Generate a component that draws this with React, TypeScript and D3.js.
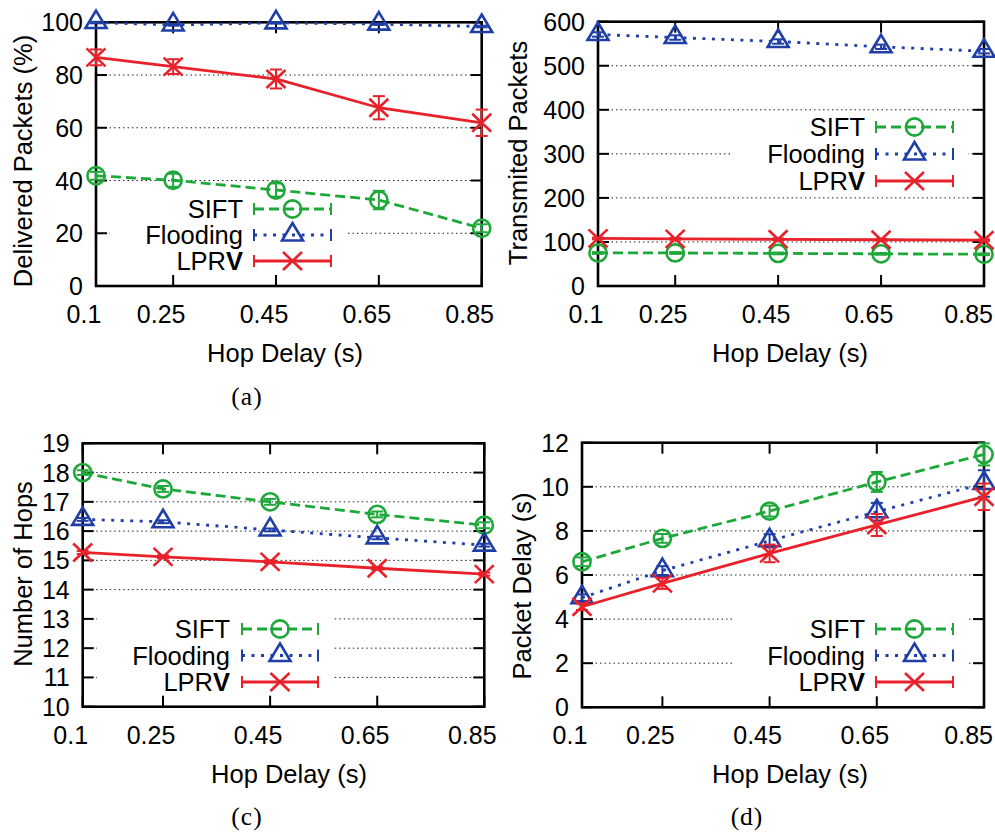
import React from "react";
import * as d3 from "d3";

// Shared x values (hop delay, seconds) and their tick labels
const hopDelay = [0.1, 0.25, 0.45, 0.65, 0.85];
const hopDelayLabels = ["0.1", "0.25", "0.45", "0.65", "0.85"];
const seriesNames = ["SIFT", "Flooding", "LPRV"];

// (a) Delivered packets (%)
const deliveredSift = [41.8, 40.1, 36.4, 32.6, 21.9];
const deliveredSiftErr = [1.5, 2.5, 2.5, 3.5, 1.5];
const deliveredFlooding = [99.9, 99.0, 99.8, 99.3, 98.4];
const deliveredFloodingErr = [0.3, 0.3, 0.3, 0.3, 0.3];
const deliveredLprv = [86.7, 83.2, 78.5, 67.6, 61.9];
const deliveredLprvErr = [3.0, 2.8, 3.6, 4.4, 5.0];
const deliveredTicks = [0, 20, 40, 60, 80, 100];

// (b) Transmitted packets
const transSift = [75, 75, 74, 73, 72];
const transSiftErr = [2, 2, 2, 2, 2];
const transFlooding = [571, 564, 555, 543, 533];
const transFloodingErr = [5, 5, 5, 5, 5];
const transLprv = [108, 107, 106, 105, 104];
const transLprvErr = [2, 2, 2, 2, 2];
const transTicks = [0, 100, 200, 300, 400, 500, 600];

// (c) Number of hops
const hopsSift = [18.0, 17.44, 17.0, 16.57, 16.2];
const hopsSiftErr = [0.08, 0.1, 0.1, 0.1, 0.1];
const hopsFlooding = [16.4, 16.32, 16.04, 15.77, 15.52];
const hopsFloodingErr = [0.05, 0.05, 0.05, 0.05, 0.05];
const hopsLprv = [15.27, 15.12, 14.95, 14.73, 14.53];
const hopsLprvErr = [0.05, 0.05, 0.05, 0.05, 0.05];
const hopsTicks = [10, 11, 12, 13, 14, 15, 16, 17, 18, 19];

// (d) Packet delay (s)
const delaySift = [6.6, 7.66, 8.9, 10.22, 11.47];
const delaySiftErr = [0.2, 0.2, 0.25, 0.45, 0.5];
const delayFlooding = [4.97, 6.2, 7.55, 8.87, 10.15];
const delayFloodingErr = [0.15, 0.2, 0.3, 0.4, 0.6];
const delayLprv = [4.56, 5.62, 6.98, 8.27, 9.55];
const delayLprvErr = [0.15, 0.25, 0.4, 0.5, 0.6];
const delayTicks = [0, 2, 4, 6, 8, 10, 12];

const GREEN = "#1fa83a";
const BLUE = "#1f3fa6";
const RED = "#e8212b";
const FONT = "'Liberation Sans', Arial, Helvetica, sans-serif";
const TICK_FONT = 25;
const PAGE_RIGHT = 993;

type MarkerKind = "circle" | "triangle" | "cross";
type Series = {
  name: string;
  values: number[];
  errors: number[];
  color: string;
  dash: string;
  marker: MarkerKind;
};

function makeSeries(sift: number[], siftErr: number[], fl: number[], flErr: number[], lp: number[], lpErr: number[]): Series[] {
  return [
    { name: seriesNames[0], values: sift, errors: siftErr, color: GREEN, dash: "10,5", marker: "circle" },
    { name: seriesNames[1], values: fl, errors: flErr, color: BLUE, dash: "3,6.5", marker: "triangle" },
    { name: seriesNames[2], values: lp, errors: lpErr, color: RED, dash: "", marker: "cross" },
  ];
}

function Marker({ kind, x, y, color }: { kind: MarkerKind; x: number; y: number; color: string }) {
  const sw = 2.6;
  if (kind === "circle")
    return <circle cx={x} cy={y} r={8.6} fill="none" stroke={color} strokeWidth={sw} />;
  if (kind === "triangle")
    return (
      <path
        transform={`translate(${x},${y})`}
        d="M0,-12 L10.5,5.5 L-10.5,5.5 Z"
        fill="none"
        stroke={color}
        strokeWidth={sw}
        strokeLinejoin="miter"
      />
    );
  return (
    <path
      transform={`translate(${x},${y})`}
      d="M-9.5,-9 L9.5,9 M-9.5,9 L9.5,-9"
      fill="none"
      stroke={color}
      strokeWidth={sw}
    />
  );
}

function LprvLabel({ x, y }: { x: number; y: number }) {
  return (
    <text x={x} y={y} textAnchor="end" fontFamily={FONT} fontSize={25.5} fill="#000">
      <tspan>LPR</tspan>
      <tspan fontWeight="bold">V</tspan>
    </text>
  );
}

// rough Helvetica-metric width of a numeric label
function numericWidth(s: string, size: number) {
  let w = 0;
  for (const ch of s) w += ch === "." ? 0.278 : 0.556;
  return w * size;
}

type PanelProps = {
  frame: { left: number; right: number; top: number; bottom: number };
  yDomain: [number, number];
  yTicks: number[];
  yLabel: string;
  yLabelPos: { x: number; y: number };
  xLabelX: number;
  xTickBaseline: number;
  xLabelBaseline: number;
  legend: { textRight: number; x0: number; x1: number; rows: number[] };
  series: Series[];
};

function Panel(p: PanelProps) {
  const { frame } = p;
  const x = d3.scaleLinear().domain([hopDelay[0], hopDelay[hopDelay.length - 1]]).range([frame.left, frame.right]);
  const y = d3.scaleLinear().domain(p.yDomain).range([frame.bottom, frame.top]);
  const tickLen = 11;
  const line = d3
    .line<number>()
    .x((_, i) => x(hopDelay[i]))
    .y((v) => y(v));

  const lg = p.legend;
  const boxLeft = lg.textRight - 133;
  const boxRight = lg.x1 + 15;
  const boxTop = lg.rows[0] - 15;
  const boxBottom = lg.rows[2] + 15;
  const mid = (lg.x0 + lg.x1) / 2;

  return (
    <g>
      {/* horizontal dotted grid */}
      {p.yTicks
        .filter((t) => t !== p.yDomain[0] && t !== p.yDomain[1])
        .map((t) => (
          <line
            key={`g${t}`}
            x1={frame.left}
            x2={frame.right}
            y1={y(t)}
            y2={y(t)}
            stroke="#222"
            strokeWidth={1}
            strokeDasharray="1.5,3"
          />
        ))}

      {/* opaque legend box hiding the grid */}
      <rect x={boxLeft} y={boxTop} width={boxRight - boxLeft} height={boxBottom - boxTop} fill="#fff" />

      {/* ticks on all four sides */}
      {p.yTicks.map((t) => (
        <g key={`yt${t}`} stroke="#000" strokeWidth={2}>
          <line x1={frame.left} x2={frame.left + tickLen} y1={y(t)} y2={y(t)} />
          <line x1={frame.right} x2={frame.right - tickLen} y1={y(t)} y2={y(t)} />
        </g>
      ))}
      {hopDelay.map((h) => (
        <g key={`xt${h}`} stroke="#000" strokeWidth={2}>
          <line x1={x(h)} x2={x(h)} y1={frame.bottom} y2={frame.bottom - tickLen} />
          <line x1={x(h)} x2={x(h)} y1={frame.top} y2={frame.top + tickLen} />
        </g>
      ))}

      {/* frame */}
      <rect
        x={frame.left}
        y={frame.top}
        width={frame.right - frame.left}
        height={frame.bottom - frame.top}
        fill="none"
        stroke="#000"
        strokeWidth={2.6}
      />

      {/* tick labels */}
      {p.yTicks.map((t) => (
        <text
          key={`yl${t}`}
          x={frame.left - 13}
          y={y(t) + 9}
          textAnchor="end"
          fontFamily={FONT}
          fontSize={TICK_FONT}
          fill="#000"
        >
          {t}
        </text>
      ))}
      {hopDelay.map((h, i) => {
        const label = hopDelayLabels[i];
        const half = numericWidth(label, TICK_FONT) / 2;
        const cx = Math.min(x(h) - 12, PAGE_RIGHT - half);
        return (
          <text
            key={`xl${h}`}
            x={cx}
            y={p.xTickBaseline}
            textAnchor="middle"
            fontFamily={FONT}
            fontSize={TICK_FONT}
            fill="#000"
          >
            {label}
          </text>
        );
      })}

      {/* axis titles */}
      <text
        transform={`translate(${p.yLabelPos.x},${p.yLabelPos.y}) rotate(-90)`}
        textAnchor="middle"
        fontFamily={FONT}
        fontSize={25.5}
        fill="#000"
      >
        {p.yLabel}
      </text>
      <text x={p.xLabelX} y={p.xLabelBaseline} textAnchor="middle" fontFamily={FONT} fontSize={25.5} fill="#000">
        Hop Delay (s)
      </text>

      {/* series: lines, error bars, markers */}
      {p.series.map((s) => (
        <g key={s.name}>
          <path
            d={line(s.values) || ""}
            fill="none"
            stroke={s.color}
            strokeWidth={2.8}
            strokeDasharray={s.dash || undefined}
          />
          {s.values.map((v, i) => {
            const cx = x(hopDelay[i]);
            const y0 = y(v - s.errors[i]);
            const y1 = y(v + s.errors[i]);
            return (
              <g key={i} stroke={s.color} strokeWidth={2}>
                <line x1={cx} x2={cx} y1={y0} y2={y1} />
                <line x1={cx - 6} x2={cx + 6} y1={y0} y2={y0} />
                <line x1={cx - 6} x2={cx + 6} y1={y1} y2={y1} />
              </g>
            );
          })}
          {s.values.map((v, i) => (
            <Marker key={`m${i}`} kind={s.marker} x={x(hopDelay[i])} y={y(v)} color={s.color} />
          ))}
        </g>
      ))}

      {/* legend */}
      {p.series.map((s, i) => {
        const ry = lg.rows[i];
        return (
          <g key={`lg${s.name}`}>
            {s.name === "LPRV" ? (
              <LprvLabel x={lg.textRight} y={ry + 9} />
            ) : (
              <text x={lg.textRight} y={ry + 9} textAnchor="end" fontFamily={FONT} fontSize={25.5} fill="#000">
                {s.name}
              </text>
            )}
            <line
              x1={lg.x0}
              x2={lg.x1}
              y1={ry}
              y2={ry}
              stroke={s.color}
              strokeWidth={2.8}
              strokeDasharray={s.dash || undefined}
            />
            <line x1={lg.x0} x2={lg.x0} y1={ry - 6} y2={ry + 6} stroke={s.color} strokeWidth={2} />
            <line x1={lg.x1} x2={lg.x1} y1={ry - 6} y2={ry + 6} stroke={s.color} strokeWidth={2} />
            <Marker kind={s.marker} x={mid} y={ry} color={s.color} />
          </g>
        );
      })}
    </g>
  );
}

function Caption({ x, y, label }: { x: number; y: number; label: string }) {
  return (
    <text
      x={x}
      y={y}
      textAnchor="middle"
      fontFamily="'Liberation Serif', 'DejaVu Serif', serif"
      fontSize={25.5}
      letterSpacing={1}
      fill="#000"
    >
      {label}
    </text>
  );
}

export default function App() {
  return (
    <svg
      width={995}
      height={836}
      style={{ position: "absolute", left: 0, top: 0, background: "#fff" }}
    >
      <rect width={995} height={836} fill="#fff" />
      <Panel
        frame={{ left: 96, right: 481.7, top: 22.3, bottom: 286 }}
        yDomain={[0, 100]}
        yTicks={deliveredTicks}
        yLabel="Delivered Packets (%)"
        yLabelPos={{ x: 32, y: 161 }}
        xLabelX={285}
        xTickBaseline={323}
        xLabelBaseline={362}
        legend={{ textRight: 243, x0: 254, x1: 331, rows: [209, 235, 261] }}
        series={makeSeries(deliveredSift, deliveredSiftErr, deliveredFlooding, deliveredFloodingErr, deliveredLprv, deliveredLprvErr)}
      />
      <Panel
        frame={{ left: 598, right: 984, top: 21.7, bottom: 286 }}
        yDomain={[0, 600]}
        yTicks={transTicks}
        yLabel="Transmited Packets"
        yLabelPos={{ x: 526.5, y: 153 }}
        xLabelX={790}
        xTickBaseline={323}
        xLabelBaseline={362}
        legend={{ textRight: 865, x0: 876, x1: 953, rows: [127, 154, 181] }}
        series={makeSeries(transSift, transSiftErr, transFlooding, transFloodingErr, transLprv, transLprvErr)}
      />
      <Panel
        frame={{ left: 82.7, right: 484.3, top: 443.3, bottom: 706.7 }}
        yDomain={[10, 19]}
        yTicks={hopsTicks}
        yLabel="Number of Hops"
        yLabelPos={{ x: 32, y: 574 }}
        xLabelX={289}
        xTickBaseline={743.5}
        xLabelBaseline={782.5}
        legend={{ textRight: 230, x0: 242, x1: 318, rows: [629, 655.5, 682] }}
        series={makeSeries(hopsSift, hopsSiftErr, hopsFlooding, hopsFloodingErr, hopsLprv, hopsLprvErr)}
      />
      <Panel
        frame={{ left: 582, right: 984, top: 442.7, bottom: 707.3 }}
        yDomain={[0, 12]}
        yTicks={delayTicks}
        yLabel="Packet Delay (s)"
        yLabelPos={{ x: 531, y: 586 }}
        xLabelX={790}
        xTickBaseline={743.5}
        xLabelBaseline={782.5}
        legend={{ textRight: 865, x0: 876, x1: 953, rows: [629, 655.5, 682] }}
        series={makeSeries(delaySift, delaySiftErr, delayFlooding, delayFloodingErr, delayLprv, delayLprvErr)}
      />
      <Caption x={247} y={405} label="(a)" />
      <Caption x={247} y={825} label="(c)" />
      <Caption x={747} y={825} label="(d)" />
    </svg>
  );
}
